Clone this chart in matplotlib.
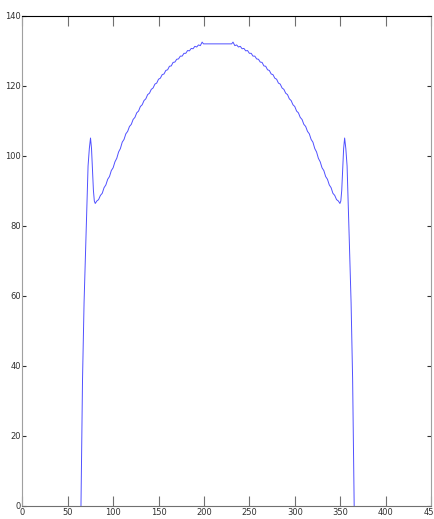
import matplotlib
matplotlib.use("Agg")
import matplotlib.pyplot as plt
from matplotlib import font_manager

# ---- data ----
left_edge_x = [64.6, 65.5, 66.3, 68.0, 70.0, 71.0, 72.4, 73.8, 75.1, 76.2, 77.2, 78.3, 79.3, 80.3]
left_edge_y = [0.0, 18.0, 36.0, 58.0, 76.0, 85.0, 97.0, 102.0, 105.0, 102.0, 96.0, 90.0, 87.0, 86.3]

left_arc_x = [82, 84, 86, 88, 90, 92, 94, 96, 98, 100, 102, 104, 106, 108, 110, 112, 114, 116,
              118, 120, 122, 124, 126, 128, 130, 132, 134, 136, 138, 140, 142, 144, 146, 148,
              150, 152, 154, 156, 158, 160, 162, 164, 166, 168, 170, 172, 174, 176, 178, 180,
              182, 184, 186, 188, 190, 192, 194, 196]
left_arc_y = [87.0, 87.4, 88.6, 89.2, 90.8, 91.6, 93.2, 94.0, 95.7, 96.5, 98.2, 99.2, 101.0,
              102.0, 103.8, 104.6, 106.2, 106.9, 108.3, 108.9, 110.3, 110.9, 112.2, 112.7,
              114.0, 114.5, 115.7, 116.2, 117.4, 117.8, 118.9, 119.3, 120.4, 120.7, 121.8,
              122.1, 123.1, 123.3, 124.3, 124.5, 125.5, 125.6, 126.6, 126.7, 127.5, 127.6,
              128.4, 128.4, 129.2, 129.2, 130.0, 129.9, 130.6, 130.5, 131.2, 131.0, 131.6, 131.4]

top_x = [198.0, 199.5, 230.5, 232.0]
top_y = [132.4, 131.9, 131.9, 132.4]

right_arc_x = [234, 236, 238, 240, 242, 244, 246, 248, 250, 252, 254, 256, 258, 260, 262, 264,
               266, 268, 270, 272, 274, 276, 278, 280, 282, 284, 286, 288, 290, 292, 294, 296,
               298, 300, 302, 304, 306, 308, 310, 312, 314, 316, 318, 320, 322, 324, 326, 328,
               330, 332, 334, 336, 338, 340, 342, 344, 346, 348]
right_arc_y = [131.4, 131.6, 131.0, 131.2, 130.5, 130.6, 129.9, 130.0, 129.2, 129.2, 128.4,
               128.4, 127.6, 127.5, 126.7, 126.6, 125.6, 125.5, 124.5, 124.3, 123.3, 123.1,
               122.1, 121.8, 120.7, 120.4, 119.3, 118.9, 117.8, 117.4, 116.2, 115.7, 114.5,
               114.0, 112.7, 112.2, 110.9, 110.3, 108.9, 108.3, 106.9, 106.2, 104.6, 103.8,
               102.0, 101.0, 99.2, 98.2, 96.5, 95.7, 94.0, 93.2, 91.6, 90.8, 89.2, 88.6, 87.4, 87.0]

right_edge_x = [349.7, 350.7, 351.7, 352.8, 353.8, 354.9, 356.2, 357.6, 359.0, 360.0, 362.0, 363.7, 364.5, 365.4]
right_edge_y = [86.3, 87.0, 90.0, 96.0, 102.0, 105.0, 102.0, 97.0, 85.0, 76.0, 58.0, 36.0, 18.0, 0.0]

x_ticks = [0, 50, 100, 150, 200, 250, 300, 350, 400, 450]
y_ticks = [0, 20, 40, 60, 80, 100, 120, 140]

xs = left_edge_x + left_arc_x + top_x + right_arc_x + right_edge_x
ys = left_edge_y + left_arc_y + top_y + right_arc_y + right_edge_y

# ---- font ----
installed = {f.name for f in font_manager.fontManager.ttflist}
fam = [f for f in ["Liberation Sans Narrow", "DejaVu Sans Condensed", "DejaVu Sans"] if f in installed]

fig = plt.figure(figsize=(4.34, 5.19), dpi=100)
ax = fig.add_axes([0.0514, 0.026, 0.9417, 0.9441])

ax.plot(xs, ys, color="#5050ff", lw=0.7)

ax.set_xlim(0, 450)
ax.set_ylim(0, 140)
ax.set_xticks(x_ticks)
ax.set_yticks(y_ticks)
ax.set_xticklabels([str(v) for v in x_ticks])
ax.set_yticklabels([str(v) for v in y_ticks])

ax.tick_params(axis="x", direction="in", length=7.5, width=0.8, color="#707070",
               top=True, bottom=True, pad=1.5, labelsize=6)
ax.tick_params(axis="y", direction="in", length=3, width=0.8, color="#303030",
               left=True, right=True, pad=1, labelsize=6)
for lab in ax.get_xticklabels() + ax.get_yticklabels():
    lab.set_family(fam)
    lab.set_color("#303030")

ax.spines["top"].set_color("#000000")
ax.spines["left"].set_color("#a0a0a0")
ax.spines["right"].set_color("#a0a0a0")
ax.spines["bottom"].set_color("#707070")
for s in ax.spines.values():
    s.set_linewidth(0.8)

fig.savefig("out.png", dpi=100)
